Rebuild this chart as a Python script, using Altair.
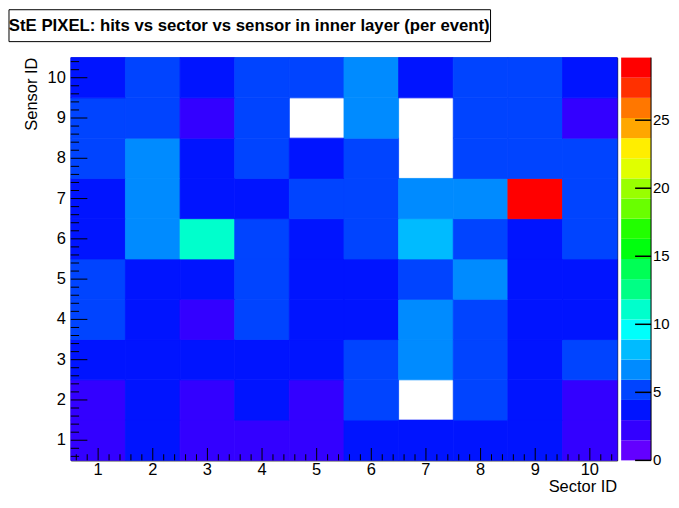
import altair as alt
import pandas as pd

# ---- data (hits per event) ----
sectors = [1, 2, 3, 4, 5, 6, 7, 8, 9, 10]
sensors = [1, 2, 3, 4, 5, 6, 7, 8, 9, 10]

sensor_01 = [2.3, 3.6, 2.2, 2.6, 2.4, 3.3, 3.5, 3.8, 3.7, 2.5]
sensor_02 = [2.4, 3.9, 2.6, 4.0, 2.8, 5.1, 0.0, 5.3, 3.9, 2.2]
sensor_03 = [4.2, 3.8, 4.0, 3.7, 3.6, 5.0, 6.8, 5.4, 3.9, 5.2]
sensor_04 = [5.0, 3.9, 2.7, 5.3, 4.1, 3.6, 6.9, 5.2, 4.0, 3.8]
sensor_05 = [5.2, 4.1, 4.2, 5.1, 3.9, 4.0, 5.3, 6.6, 3.8, 4.0]
sensor_06 = [3.8, 6.7, 11.2, 5.2, 3.9, 5.0, 8.2, 5.1, 3.7, 5.3]
sensor_07 = [3.7, 6.8, 3.9, 3.8, 5.1, 5.2, 6.6, 6.7, 29.6, 5.0]
sensor_08 = [5.1, 6.6, 3.6, 5.2, 3.9, 5.0, 0.0, 5.3, 5.2, 5.1]
sensor_09 = [5.0, 5.2, 2.6, 5.1, 0.0, 6.5, 0.0, 5.3, 5.2, 2.7]
sensor_10 = [3.9, 5.3, 3.7, 5.1, 5.0, 6.7, 3.6, 5.2, 5.1, 4.0]

z_max = 29.6
palette = ["#6300ff", "#3300ff", "#0014ff", "#0044ff", "#008bff",
           "#00bbff", "#00fffb", "#00ffcc", "#00ff85", "#00ff55",
           "#00ff0e", "#22ff00", "#69ff00", "#99ff00", "#e0ff00",
           "#ffee00", "#ffa700", "#ff7700", "#ff3000", "#ff0000"]
z_ticks = [0, 5, 10, 15, 20, 25]
title_text = "StE PIXEL: hits vs sector vs sensor in inner layer (per event)"
x_title = "Sector ID"
y_title = "Sensor ID"

# ---- tables ----
rows = [sensor_01, sensor_02, sensor_03, sensor_04, sensor_05,
        sensor_06, sensor_07, sensor_08, sensor_09, sensor_10]
records = []
for sen, row in zip(sensors, rows):
    for sec, v in zip(sectors, row):
        records.append({"sector": sec, "sensor": sen, "hits": v})
df = pd.DataFrame(records)

minor_vals = sorted(set(round(m + k * 0.2, 1) for m in range(0, 11) for k in range(1, 5)))
minor_vals = [v for v in minor_vals if 0.5 < v < 10.5]
major = pd.DataFrame({"t": sectors, "lab": [str(s) for s in sectors]})
major_ticks = pd.DataFrame({"tm": sectors})
minor_ticks = pd.DataFrame({"tm": minor_vals})

dz = z_max / len(palette)
levels = pd.DataFrame({
    "lo": [i * dz for i in range(len(palette))],
    "hi": [(i + 1) * dz for i in range(len(palette))],
    "col": palette,
})
zlab = pd.DataFrame({"lo": z_ticks, "lab": [str(v) for v in z_ticks]})

W, H = 548, 404
CBW = 30
FONT = "Liberation Sans"
FS = 16.5
XT, YT = 12.3, 16.6      # major tick lengths (inward, ROOT style)
HALF = 0.5 / 54.8        # half a pixel in bin units (tick thickness)

xscale = alt.Scale(domain=[0.5, 10.5], nice=False, zero=False)
yscale = alt.Scale(domain=[0.5, 10.5], nice=False, zero=False)
zscale = alt.Scale(domain=[0, z_max], nice=False, zero=True, range=[H, 0])
cscale = alt.Scale(type="quantize", domain=[0, z_max], range=palette, nice=False, zero=True)

cells = alt.Chart(df).transform_filter("datum.hits > 0").transform_calculate(
    x0="datum.sector - 0.5", x1="datum.sector + 0.5",
    y0="datum.sensor - 0.5", y1="datum.sensor + 0.5",
).mark_rect(strokeWidth=0.8).encode(
    x=alt.X("x0:Q", scale=xscale, axis=None),
    x2="x1:Q",
    y=alt.Y("y0:Q", scale=yscale, axis=None),
    y2="y1:Q",
    color=alt.Color("hits:Q", scale=cscale, legend=None),
    stroke=alt.Stroke("hits:Q", scale=cscale, legend=None),
)


def x_tick_layer(data, length):
    return alt.Chart(data).transform_calculate(
        a=f"datum.tm - {HALF}", b=f"datum.tm + {HALF}"
    ).mark_rect(color="black").encode(
        x=alt.X("a:Q", scale=xscale, axis=None), x2="b:Q",
        y=alt.value(H - length), y2=alt.value(H))


def y_tick_layer(data, length):
    return alt.Chart(data).transform_calculate(
        a=f"datum.tm - {HALF * 54.8 / 40.4}", b=f"datum.tm + {HALF * 54.8 / 40.4}"
    ).mark_rect(color="black").encode(
        y=alt.Y("a:Q", scale=yscale, axis=None), y2="b:Q",
        x=alt.value(0), x2=alt.value(length))


x_major = x_tick_layer(major_ticks, XT)
x_minor = x_tick_layer(minor_ticks, XT / 2)
y_major = y_tick_layer(major_ticks, YT)
y_minor = y_tick_layer(minor_ticks, YT / 2)

# axis labels and titles
x_labels = alt.Chart(major).mark_text(
    font=FONT, fontSize=FS, align="center", baseline="top", color="black"
).encode(x=alt.X("t:Q", scale=xscale, axis=None), y=alt.value(H + 2), text="lab:N")
y_labels = alt.Chart(major).mark_text(
    font=FONT, fontSize=FS, align="right", baseline="middle", color="black"
).encode(y=alt.Y("t:Q", scale=yscale, axis=None), x=alt.value(-5), text="lab:N")
x_title_mark = alt.Chart(pd.DataFrame({"t": [x_title]})).mark_text(
    font=FONT, fontSize=FS, align="right", baseline="alphabetic", color="black"
).encode(x=alt.value(W), y=alt.value(H + 32), text="t:N")
y_title_mark = alt.Chart(pd.DataFrame({"t": [y_title]})).mark_text(
    font=FONT, fontSize=FS, align="right", baseline="top", angle=270, color="black"
).encode(x=alt.value(-47), y=alt.value(0), text="t:N")

title_df = pd.DataFrame({"t": [title_text]})
title_box = alt.Chart(title_df).mark_rect(fill="white", stroke="black", strokeWidth=1).encode(
    x=alt.value(-62), x2=alt.value(421), y=alt.value(-48), y2=alt.value(-16))
title_txt = alt.Chart(title_df).mark_text(
    font=FONT, fontWeight="bold", fontSize=16.8, align="center", baseline="middle", color="black"
).encode(text="t:N", x=alt.value(179), y=alt.value(-31.5))

heat = alt.layer(cells, x_minor, x_major, y_minor, y_major,
                 x_labels, y_labels, x_title_mark, y_title_mark,
                 title_box, title_txt).properties(width=W, height=H)

# ---- palette axis (colour bar) ----
bar = alt.Chart(levels).mark_rect().encode(
    y=alt.Y("lo:Q", scale=zscale, axis=None),
    y2="hi:Q",
    x=alt.value(0), x2=alt.value(CBW),
    color=alt.Color("col:N", scale=None, legend=None),
)
bar_line = alt.Chart(pd.DataFrame({"lo": [0.0], "hi": [z_max]})).mark_rule(
    color="black", strokeWidth=1).encode(
    y=alt.Y("lo:Q", scale=zscale, axis=None), y2="hi:Q", x=alt.value(CBW))
bar_ticks = alt.Chart(zlab).mark_rule(color="black", strokeWidth=1.5).encode(
    y=alt.Y("lo:Q", scale=zscale, axis=None), x=alt.value(CBW - 16), x2=alt.value(CBW))
bar_labels = alt.Chart(zlab).mark_text(
    font=FONT, fontSize=15, align="left", baseline="middle", color="black", clip=True
).encode(y=alt.Y("lo:Q", scale=zscale, axis=None), x=alt.value(CBW + 2), text="lab:N")

colorbar = alt.layer(bar, bar_line, bar_ticks, bar_labels).properties(
    width=49, height=H + 12, view=alt.ViewBackground(stroke="transparent"))

chart = alt.hconcat(heat, colorbar, spacing=2).properties(
    padding={"left": 0, "top": 0, "right": 0, "bottom": 0}
).configure_view(stroke="black", strokeWidth=1)

chart.save("out.html", embed_options={"renderer": "svg", "actions": False})
